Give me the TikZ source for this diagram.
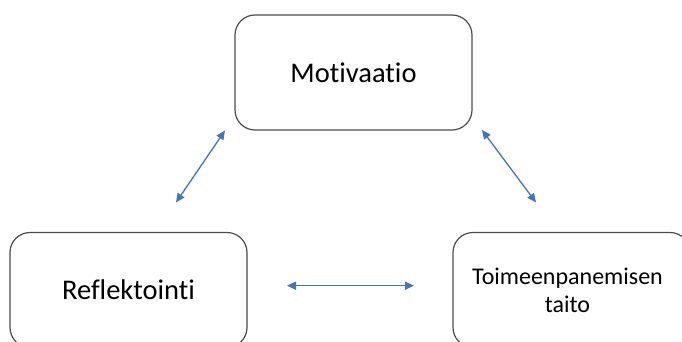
\documentclass[tikz,border=0pt]{standalone}
\usepackage{fontspec}
\setmainfont{Carlito}[RawFeature=-liga]
\usetikzlibrary{arrows.meta}
\tikzset{
  box/.style={draw=black!70, line width=1.2pt, rounded corners=20pt, fill=white,
    minimum width=237pt, minimum height=115pt, align=center, inner sep=0pt,
    font=\fontsize{28.5}{30}\selectfont},
  smallbox/.style={box, font=\fontsize{24}{28}\selectfont},
  link/.style={draw={rgb,255:red,68;green,114;blue,196}, line width=1.3pt,
    {Triangle[length=9pt,width=8pt]}-{Triangle[length=9pt,width=8pt]}}
}
\begin{document}
\begin{tikzpicture}[x=1pt,y=-1pt]
\useasboundingbox (0,0) rectangle (682,342);
\clip (0,0) rectangle (682,342);
\node[box] (mot) at (353.5,72.5) {Motivaatio};
\node[box] (ref) at (128.5,290) {Reflektointi};
\node[smallbox, text width=237pt] (toi) at (571.5,290) {\hspace*{-8pt}Toimeenpanemisen\hspace*{0pt}\\\hspace*{-8pt}taito};
\coordinate (a1) at (225,130.5);
\coordinate (a2) at (176,202.5);
\coordinate (b1) at (482,130);
\coordinate (b2) at (536,202.5);
\coordinate (c1) at (287,285.7);
\coordinate (c2) at (414,285.7);
\draw[link] (a2) -- (a1);
\draw[link] (b1) -- (b2);
\draw[link] (c1) -- (c2);
\end{tikzpicture}
\end{document}
